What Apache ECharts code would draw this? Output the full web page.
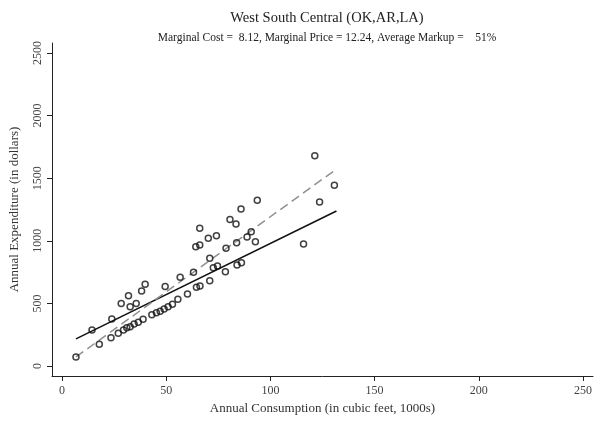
<!DOCTYPE html>
<html><head><meta charset="utf-8">
<script src="https://cdn.jsdelivr.net/npm/echarts@6/dist/echarts.min.js"></script>
<style>html,body{margin:0;padding:0;background:#fff}#c{width:597px;height:424px}</style>
</head><body><div id="c"></div>
<script>
const titleText = "West South Central (OK,AR,LA)";
const subtitleText = "Marginal Cost =  8.12, Marginal Price = 12.24, Average Markup =    51%";
const xTicks = [0, 50, 100, 150, 200, 250];
const yTicks = [0, 500, 1000, 1500, 2000, 2500];
// observed households: consumption (1000 cu ft), expenditure ($)
const consumption = [6.7,14.4,17.9,23.5,23.9,27,28.4,31.9,32.7,35.6,38.2,39.9,49.5,56.7,63.1,60.2,64.5,66.2,70.9,
  29.5,31.1,32.7,34.6,36.6,38.9,43.1,45.3,47.1,49,50.9,53,55.6,
  121.3,130.7,123.6,115.9,93.7,85.9,80.6,83.5,90.8,88.8,92.8,83.8,78.7,74.1,70.2,66.1,66.1,64.2,70.9,72.6,74.6,78.4,84,86.1];
const expenditure = [72,288,173,226,375,261,500,561,474,500,599,652,634,709,748,575,628,639,681,
  288,306,314,335,349,373,410,426,437,455,474,493,533,
  1680,1443,1310,974,1323,1254,1171,1134,1073,1030,993,985,940,1041,1020,1100,966,953,860,785,799,753,807,825];
// fitted lines (endpoints)
const lineX = [6.7, 131.7];
const costLineY = [216, 1238];
const priceLineY = [72, 1573];

const pts = consumption.map((v, i) => [v, expenditure[i]]);
const font = "'Liberation Serif','DejaVu Serif',serif";
const chart = echarts.init(document.getElementById('c'));
chart.setOption({
  animation: false,
  title: [
    {text: titleText, left: 322, top: 6, textAlign: 'center',
     textStyle: {fontFamily: font, fontSize: 14.5, fontWeight: 'normal', color: '#222'}},
    {text: subtitleText, left: 322, top: 27, textAlign: 'center',
     textStyle: {fontFamily: font, fontSize: 11.5, fontWeight: 'normal', color: '#222'}}
  ],
  grid: {left: 51, right: 4, top: 43, bottom: 48},
  xAxis: {
    type: 'value', min: -4.8, max: 254.8,
    name: 'Annual Consumption (in cubic feet, 1000s)', nameLocation: 'middle', nameGap: 26,
    nameTextStyle: {fontFamily: font, fontSize: 13, color: '#333'},
    axisLine: {show: true, onZero: false, lineStyle: {color: '#222', width: 1}},
    axisTick: {show: true, length: 5, customValues: xTicks, lineStyle: {color: '#222'}},
    axisLabel: {customValues: xTicks, fontFamily: font, fontSize: 12, color: '#444', margin: 9},
    splitLine: {show: false}
  },
  yAxis: {
    type: 'value', min: -80, max: 2580,
    name: 'Annual Expenditure (in dollars)', nameLocation: 'middle', nameGap: 31,
    nameTextStyle: {fontFamily: font, fontSize: 13, color: '#333'},
    axisLine: {show: true, onZero: false, lineStyle: {color: '#222', width: 1}},
    axisTick: {show: true, length: 5, customValues: yTicks, lineStyle: {color: '#222'}},
    axisLabel: {customValues: yTicks, rotate: 90, fontFamily: font, fontSize: 12, color: '#444', margin: 8,
      formatter: v => String(v)},
    splitLine: {show: false}
  },
  series: [
    {type: 'scatter', data: pts, symbol: 'circle', symbolSize: 6,
     itemStyle: {color: 'rgba(255,255,255,0)', borderColor: '#111', borderWidth: 1.5}, z: 3},
    {type: 'line', data: lineX.map((v, i) => [v, costLineY[i]]), symbol: 'none',
     lineStyle: {color: '#111', width: 1.5}, z: 2},
    {type: 'line', data: lineX.map((v, i) => [v, priceLineY[i]]), symbol: 'none',
     lineStyle: {color: '#909090', width: 1.5, type: [9, 5]}, z: 2}
  ]
});
</script></body></html>
